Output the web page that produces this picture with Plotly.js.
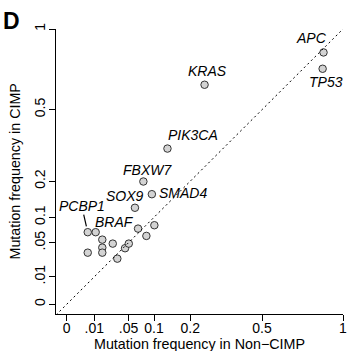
<!DOCTYPE html>
<html>
<head>
<meta charset="utf-8">
<script src="https://cdn.plot.ly/plotly-3.0.1.min.js"></script>
<style>html,body{margin:0;padding:0;background:#fff;}#chart{width:347px;height:351px;}</style>
</head>
<body>
<div id="chart"></div>
<script>
// Mutation frequencies (fraction of samples)
const genes = ["APC","TP53","KRAS","PIK3CA","FBXW7","SMAD4","SOX9","BRAF","PCBP1",
               "","","","","","","","","","",""];
const nonCimpFreq = [0.864,0.858,0.249,0.133,0.077,0.095,0.061,0.0166,0.0058,
                     0.011,0.0278,0.0166,0.0058,0.0166,0.0336,0.0446,0.0505,0.0667,0.0832,0.1007];
const cimpFreq    = [0.837,0.732,0.636,0.320,0.199,0.160,0.123,0.0552,0.0686,
                     0.0686,0.0486,0.0424,0.0352,0.0352,0.0275,0.0415,0.0486,0.0756,0.0617,0.0825];
const tickValues = [0, 0.01, 0.05, 0.1, 0.2, 0.5, 1];
const tickLabels = ["0", ".01", ".05", "0.1", "0.2", "0.5", "1"];
const xTitle = "Mutation frequency in Non\u2212CIMP";
const yTitle = "Mutation frequency in CIMP";

// label placement (pixel offsets from the point), layout only
const labelShift = {
  APC:[-12,14], TP53:[3,-13], KRAS:[3,14], PIK3CA:[26,14], FBXW7:[4,12],
  SMAD4:[31,1], SOX9:[-10,12], BRAF:[12,18]
};

const sq = v => Math.sqrt(v);   // square-root scaled axes
const xs = nonCimpFreq.map(sq), ys = cimpFreq.map(sq);
const tv = tickValues.map(sq);

const font = "Liberation Sans, Arial, sans-serif";
const annotations = [];
genes.forEach((g,i)=>{
  if(!g) return;
  if(g === "PCBP1"){
    annotations.push({x:xs[i], y:ys[i], xref:'x', yref:'y', text:'<i>'+g+'</i>', showarrow:true,
      arrowhead:0, arrowwidth:1.2, arrowcolor:'#000', ax:-6, ay:-26, standoff:6,
      font:{family:font, size:14, color:'#000'}, borderpad:0});
  } else {
    const s = labelShift[g] || [0,12];
    annotations.push({x:xs[i], y:ys[i], xref:'x', yref:'y', text:'<i>'+g+'</i>', showarrow:false,
      xshift:s[0], yshift:s[1], font:{family:font, size:14, color:'#000'}});
  }
});
annotations.push({xref:'paper', yref:'paper', x:-0.19, y:1.082, xanchor:'left', yanchor:'top',
  text:'<b>D</b>', showarrow:false, font:{family:font, size:23, color:'#000'}});
annotations.push({xref:'paper', yref:'paper', x:0.5, y:-0.1053, xanchor:'center', yanchor:'middle',
  text:xTitle, showarrow:false, font:{family:font, size:14.3, color:'#000'}});
annotations.push({xref:'paper', yref:'paper', x:-0.1463, y:0.5, xanchor:'center', yanchor:'middle',
  textangle:-90, text:yTitle, showarrow:false, font:{family:font, size:14.3, color:'#000'}});

const xr = [-0.0387, 1], yr = [-0.0352, 1];
const data = [{
  x: xs, y: ys, type:'scatter', mode:'markers',
  marker:{size:7.5, color:'#d3d3d3', line:{color:'#333', width:1}},
  hoverinfo:'skip'
}];
const axisCommon = {
  tickmode:'array', tickvals: tv, ticktext: tickLabels, showline:true, linecolor:'#000', linewidth:1,
  ticks:'outside', ticklen:6, tickcolor:'#000', tickwidth:1, zeroline:false, showgrid:false,
  tickfont:{family:font, size:14, color:'#000'}, fixedrange:true, ticklabeloverflow:'allow'
};
const layout = {
  width:347, height:351,
  margin:{l:56, r:4, t:29, b:37, pad:0},
  paper_bgcolor:'#fff', plot_bgcolor:'#fff', showlegend:false,
  xaxis: Object.assign({}, axisCommon, {range:xr, tickangle:0, ticklabelstandoff:-5}),
  yaxis: Object.assign({}, axisCommon, {range:yr, tickangle:-90, ticklabelstandoff:-2}),
  shapes:[{type:'line', xref:'x', yref:'y', x0:xr[0], y0:xr[0], x1:1, y1:1,
    line:{color:'#000', width:1, dash:'2px,3px'}}],
  annotations: annotations
};
Plotly.newPlot('chart', data, layout, {staticPlot:true, displayModeBar:false});
</script>
</body>
</html>
